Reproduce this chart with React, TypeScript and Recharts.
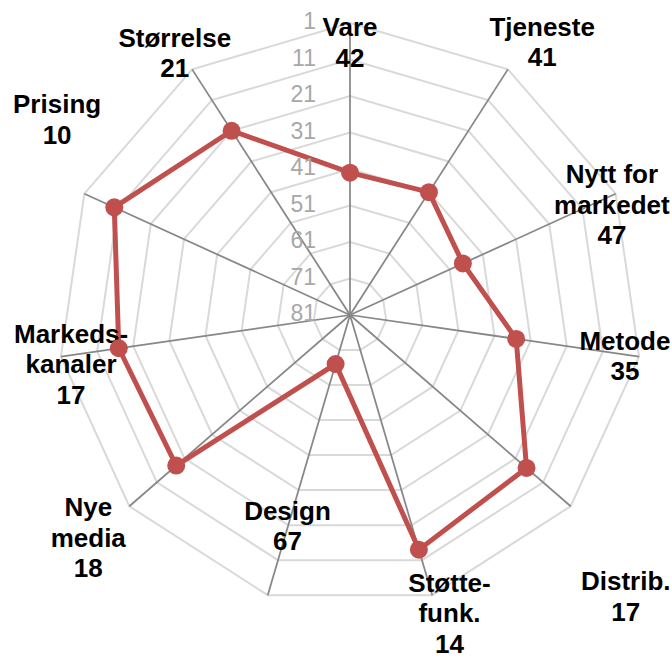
import {
  PolarAngleAxis,
  PolarGrid,
  PolarRadiusAxis,
  Radar,
  RadarChart,
} from "recharts";

const CATEGORIES = [
  "Vare",
  "Tjeneste",
  "Nytt for\nmarkedet",
  "Metode",
  "Distrib.",
  "Støtte-\nfunk.",
  "Design",
  "Nye\nmedia",
  "Markeds-\nkanaler",
  "Prising",
  "Størrelse",
];
const VALUES = [42, 41, 47, 35, 17, 14, 67, 18, 17, 10, 21];
const RADIUS_TICKS = [1, 11, 21, 31, 41, 51, 61, 71, 81];

const RED = "#c0504d";
const RING = "#d9d9d9";
const SPOKE = "#878787";
const TICK_GREY = "#a8a8a8";
const FONT = "'Liberation Sans', Arial, sans-serif";

// labels were dragged around by hand in the original, so shift each one
const LABEL_SHIFT: [number, number][] = [
  [0, 12],
  [30, -36],
  [-11, -16],
  [-22, -17],
  [49, 70],
  [15, -20],
  [22, -92],
  [-35, -4],
  [18, -24],
  [-20, -86],
  [-13, -25],
];

const data = CATEGORIES.map((name, i) => ({ name, value: VALUES[i] }));

function AngleTick(props: any) {
  const { x, y } = props;
  const i = props.index ?? props.payload?.index ?? 0;
  const [dx, dy] = LABEL_SHIFT[i] ?? [0, 0];
  const lines = [...CATEGORIES[i].split("\n"), String(VALUES[i])];
  const tx = x + dx;
  return (
    <text
      x={tx}
      y={y + dy + 9}
      textAnchor="middle"
      fontFamily={FONT}
      fontSize={26}
      fontWeight="bold"
      fill="#000"
    >
      {lines.map((l, k) => (
        <tspan key={k} x={tx} dy={k === 0 ? 0 : 30.5}>
          {l}
        </tspan>
      ))}
    </text>
  );
}

function RadiusTick({ x, y, payload }: any) {
  return (
    <text
      x={x - 34}
      y={y + 6}
      textAnchor="end"
      fontFamily={FONT}
      fontSize={23}
      fill={TICK_GREY}
    >
      {payload.value}
    </text>
  );
}

function Marker(props: any) {
  const { cx, cy, index } = props;
  if (cx == null || cy == null) return <g key={index} />;
  return <circle key={`dot-${index}`} cx={cx} cy={cy} r={9} fill={RED} />;
}

export default function App() {
  return (
    <div style={{ position: "absolute", left: 0, top: 0, background: "#fff" }}>
      <RadarChart
        width={672}
        height={657}
        cx={350}
        cy={315}
        outerRadius={292}
        data={data}
        margin={{ top: 0, right: 0, bottom: 0, left: 0 }}
      >
        <PolarGrid
          gridType="polygon"
          radialLines={false}
          stroke={RING}
          strokeWidth={2}
        />
        <PolarGrid
          gridType="polygon"
          polarRadius={[]}
          stroke={SPOKE}
          strokeWidth={1.75}
        />
        <PolarRadiusAxis
          angle={90}
          type="number"
          domain={[1, 81]}
          ticks={RADIUS_TICKS as any}
          reversed
          axisLine={false}
          tickLine={false}
          tick={<RadiusTick />}
        />
        <PolarAngleAxis
          dataKey="name"
          axisLine={false}
          tickLine={false}
          tickSize={8}
          tick={<AngleTick />}
        />
        <Radar
          dataKey="value"
          stroke={RED}
          strokeWidth={5}
          fill={RED}
          fillOpacity={0}
          dot={<Marker />}
          isAnimationActive={false}
        />
      </RadarChart>
    </div>
  );
}
